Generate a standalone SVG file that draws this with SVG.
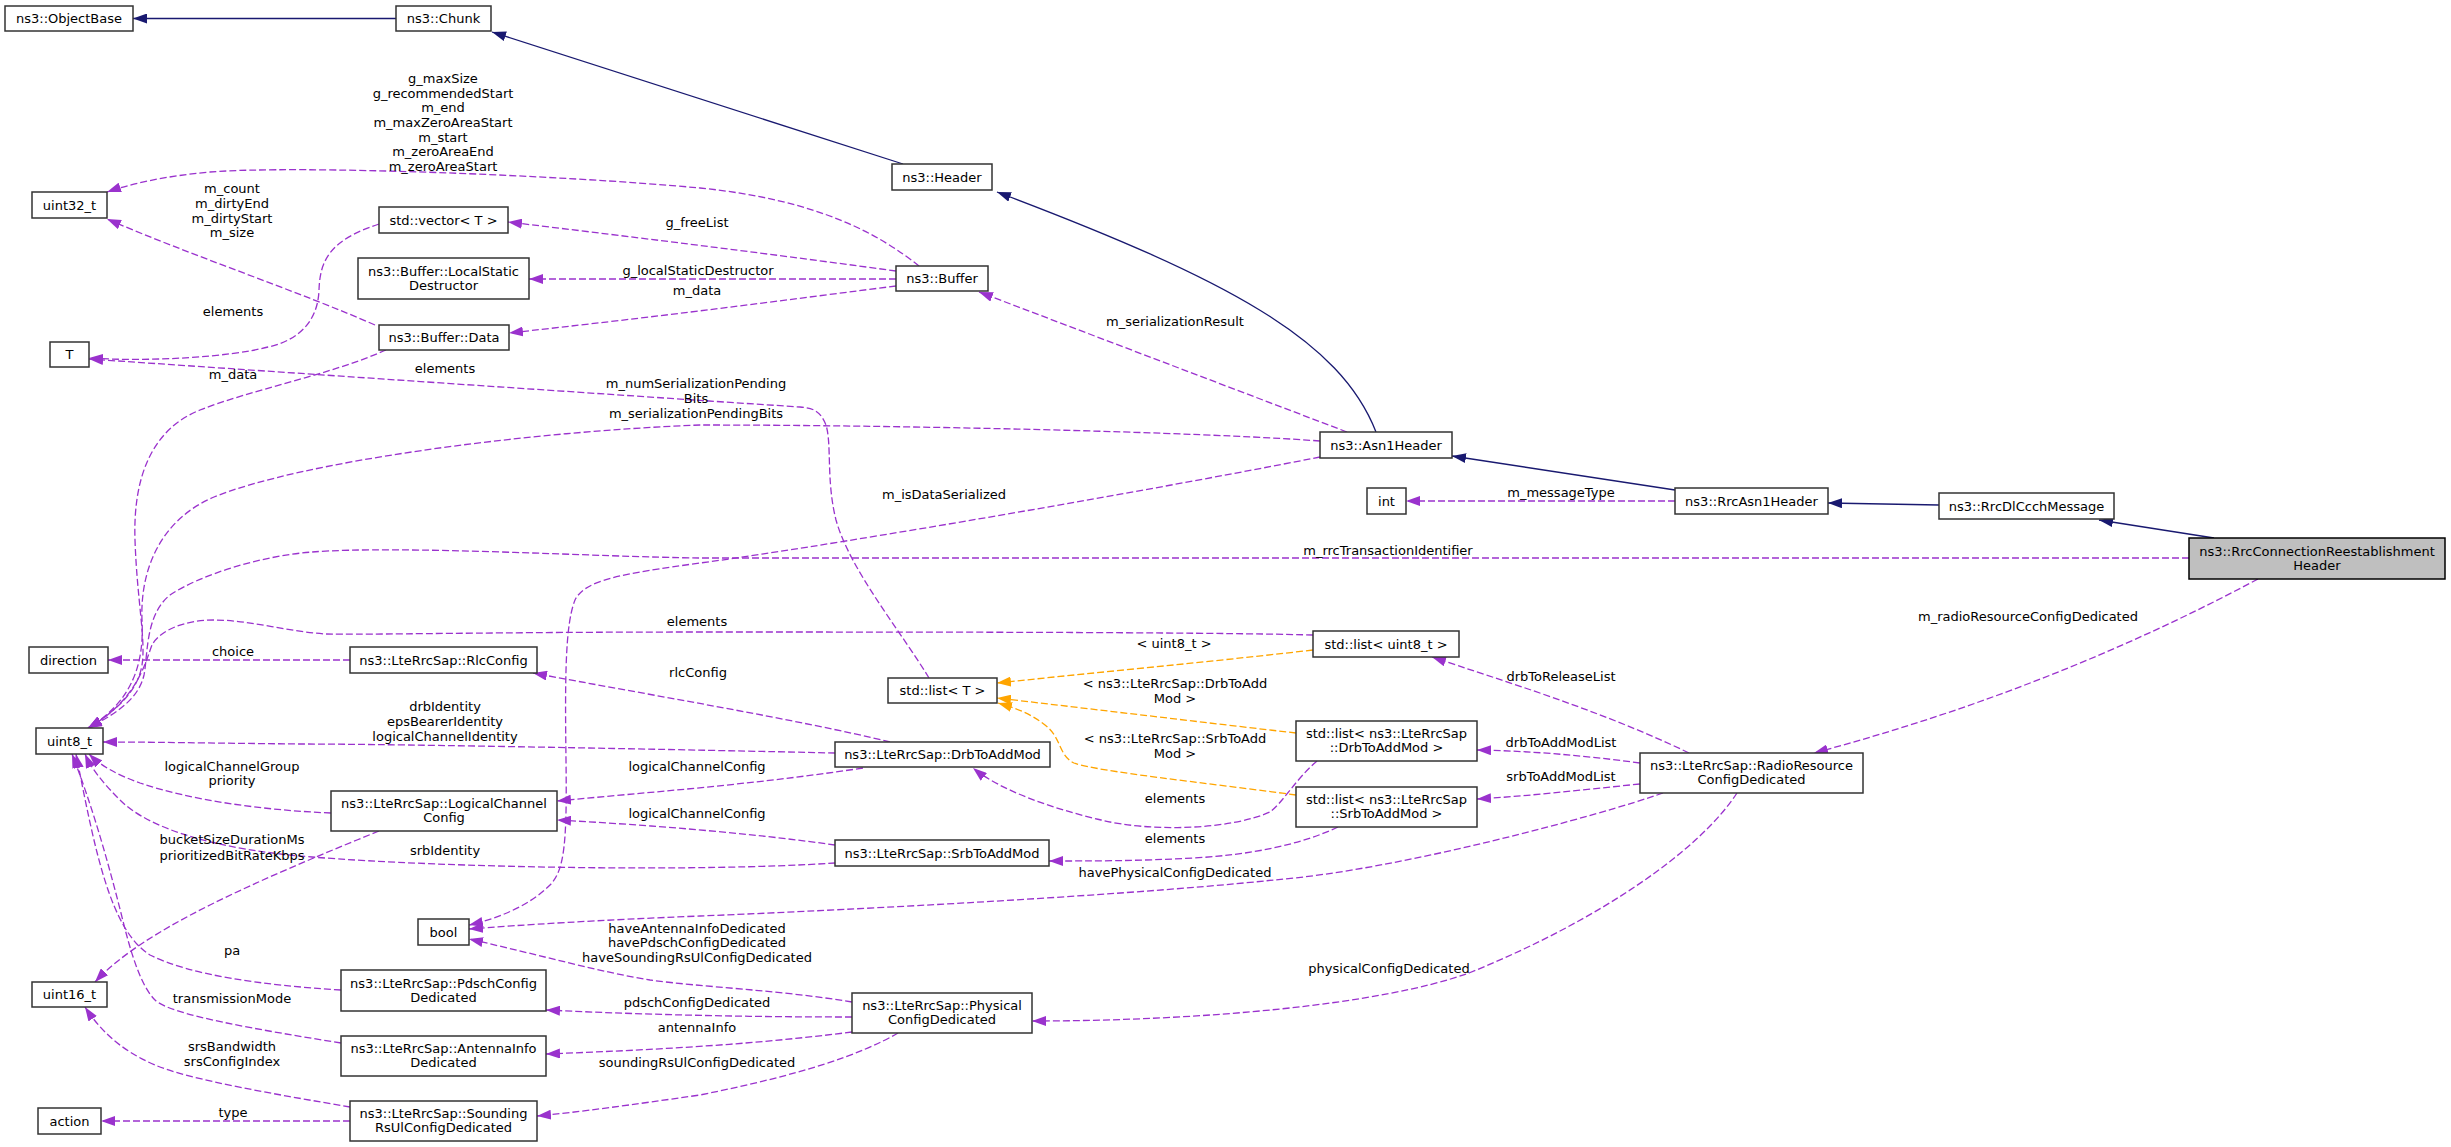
<svg xmlns="http://www.w3.org/2000/svg" width="2451" height="1147" viewBox="0 0 2451 1147">
<style>
text{font-family:"DejaVu Sans","Liberation Sans",sans-serif;font-size:13px;fill:#000;text-anchor:middle}
.n rect{fill:#fff;stroke:#333;stroke-width:1.5}
.m rect{fill:#bfbfbf;stroke:#000;stroke-width:1.5}
.inh{fill:none;stroke:#191970;stroke-width:1.3;marker-end:url(#ai)}
.use{fill:none;stroke:#9a32cd;stroke-width:1.3;stroke-dasharray:7,3;marker-end:url(#au)}
.tpl{fill:none;stroke:#ffa500;stroke-width:1.3;stroke-dasharray:7,3;marker-end:url(#at)}
</style>
<defs>
<marker id="ai" markerUnits="userSpaceOnUse" markerWidth="15" markerHeight="10" refX="14" refY="5" orient="auto"><path d="M0,0L14,5L0,10z" fill="#191970"/></marker>
<marker id="au" markerUnits="userSpaceOnUse" markerWidth="15" markerHeight="10" refX="14" refY="5" orient="auto"><path d="M0,0L14,5L0,10z" fill="#9a32cd"/></marker>
<marker id="at" markerUnits="userSpaceOnUse" markerWidth="15" markerHeight="10" refX="14" refY="5" orient="auto"><path d="M0,0L14,5L0,10z" fill="#ffa500"/></marker>
</defs>
<rect width="2451" height="1147" fill="#fff"/>
<g id="edges">
<path class="inh" d="M396,18.5L133,18.5"/>
<path class="inh" d="M903,164L492,32"/>
<path class="inh" d="M1376,432C1340,340 1230,280 997,192"/>
<path class="inh" d="M1675,490L1452,456"/>
<path class="inh" d="M1939,505L1828,503"/>
<path class="inh" d="M2214,538L2099,520"/>

<path class="use" d="M919,266C880,235 820,200 700,188C560,175 300,165 210,172C165,176 130,184 107,192"/>
<text x="443" y="83">g_maxSize</text><text x="443" y="98">g_recommendedStart</text><text x="443" y="112">m_end</text><text x="443" y="127">m_maxZeroAreaStart</text><text x="443" y="142">m_start</text><text x="443" y="156">m_zeroAreaEnd</text><text x="443" y="171">m_zeroAreaStart</text>
<path class="use" d="M896,271C800,258 700,245 508,222"/>
<text x="697" y="227">g_freeList</text>
<path class="use" d="M896,279L529,279"/>
<text x="698" y="275">g_localStaticDestructor</text>
<path class="use" d="M896,286C800,298 700,312 509,333"/>
<text x="697" y="295">m_data</text>
<path class="use" d="M375,325C300,292 190,255 107,219"/>
<text x="232" y="193">m_count</text><text x="232" y="208">m_dirtyEnd</text><text x="232" y="223">m_dirtyStart</text><text x="232" y="237">m_size</text>
<path class="use" d="M379,224C330,240 320,260 319,290C318,320 300,340 268,347C230,357 150,362 89,358"/>
<text x="233" y="316">elements</text>
<path class="use" d="M929,678C900,630 850,570 836,520C826,480 832,445 826,425C820,410 812,408 800,407L709,401C500,387 250,370 89,359"/>
<text x="445" y="373">elements</text>
<path class="use" d="M386,350C330,375 250,390 200,410C150,430 133,480 135,540C137,600 146,640 142,665C138,690 118,710 88,728"/>
<text x="233" y="379">m_data</text>
<path class="use" d="M1320,441C1200,432 900,425 700,425C520,432 300,462 214,497C160,520 140,570 142,620C144,660 135,700 88,728"/>
<text x="696" y="388">m_numSerializationPending</text><text x="696" y="403">Bits</text><text x="696" y="418">m_serializationPendingBits</text>
<path class="use" d="M1320,457C1100,500 800,550 700,563C620,574 585,580 575,600C565,625 565,680 566,760C567,840 565,870 550,885C530,905 500,918 469,925"/>
<text x="944" y="499">m_isDataSerialized</text>
<path class="use" d="M2189,558L700,558C600,557 400,545 312,552C260,556 200,575 170,595C145,615 148,655 144,675C139,697 120,712 88,728"/>
<text x="1388" y="555">m_rrcTransactionIdentifier</text>
<path class="use" d="M1313,635C1200,632 900,632 700,632C500,632 360,635 326,634C290,632 250,620 214,620C185,620 160,630 152,645C146,660 138,700 88,728"/>
<text x="697" y="626">elements</text>
<path class="tpl" d="M1313,650C1200,663 1100,672 997,683"/>
<text x="1174" y="648">&lt; uint8_t &gt;</text>
<path class="tpl" d="M1296,733C1200,722 1100,710 997,698"/>
<text x="1175" y="688">&lt; ns3::LteRrcSap::DrbToAdd</text><text x="1175" y="703">Mod &gt;</text>
<path class="tpl" d="M1296,795C1200,782 1100,772 1074,763C1058,755 1062,738 1045,725C1030,713 1015,708 998,703"/>
<text x="1175" y="743">&lt; ns3::LteRrcSap::SrbToAdd</text><text x="1175" y="758">Mod &gt;</text>
<path class="use" d="M890,742C800,720 650,695 533,673"/>
<text x="698" y="677">rlcConfig</text>
<path class="use" d="M835,753C700,750 400,744 300,744C200,743 150,742 103,742"/>
<text x="445" y="711">drbIdentity</text><text x="445" y="726">epsBearerIdentity</text><text x="445" y="741">logicalChannelIdentity</text>
<path class="use" d="M863,768C750,785 650,792 557,801"/>
<text x="697" y="771">logicalChannelConfig</text>
<path class="use" d="M835,845C750,833 650,825 557,820"/>
<text x="697" y="818">logicalChannelConfig</text>
<path class="use" d="M835,863C700,872 450,868 312,857C220,850 150,830 120,800C105,785 92,770 85,754"/>
<text x="445" y="855">srbIdentity</text>
<path class="use" d="M331,813C260,810 190,800 140,783C115,774 100,765 89,754"/>
<text x="232" y="771">logicalChannelGroup</text><text x="232" y="785">priority</text>
<path class="use" d="M379,831C320,855 260,880 210,905C160,930 120,955 95,982"/>
<text x="232" y="844">bucketSizeDurationMs</text><text x="232" y="860">prioritizedBitRateKbps</text>
<path class="use" d="M1689,753C1600,710 1500,680 1432,657"/>
<text x="1561" y="681">drbToReleaseList</text>
<path class="use" d="M1640,763C1580,755 1530,751 1477,750"/>
<text x="1561" y="747">drbToAddModList</text>
<path class="use" d="M1640,784C1580,790 1530,796 1477,799"/>
<text x="1561" y="781">srbToAddModList</text>
<path class="use" d="M1663,793C1600,815 1400,870 1274,880C1100,898 800,912 700,916C600,920 520,925 469,929"/>
<text x="1175" y="877">havePhysicalConfigDedicated</text>
<path class="use" d="M1737,793C1700,850 1600,920 1469,973C1380,1005 1200,1021 1032,1021"/>
<text x="1389" y="973">physicalConfigDedicated</text>
<path class="use" d="M2258,579Q2050,690 1814,753"/>
<text x="2028" y="621">m_radioResourceConfigDedicated</text>
<path class="use" d="M1317,761C1295,780 1285,800 1270,812C1230,830 1150,832 1101,820C1050,808 1000,790 973,768"/>
<text x="1175" y="803">elements</text>
<path class="use" d="M1338,827C1300,845 1250,855 1193,858C1140,861 1090,861 1049,861"/>
<text x="1175" y="843">elements</text>
<path class="use" d="M852,1002C780,990 700,987 650,980C600,972 540,955 469,939"/>
<text x="697" y="933">haveAntennaInfoDedicated</text><text x="697" y="947">havePdschConfigDedicated</text><text x="697" y="962">haveSoundingRsUlConfigDedicated</text>
<path class="use" d="M852,1017C750,1017 650,1015 546,1010"/>
<text x="697" y="1007">pdschConfigDedicated</text>
<path class="use" d="M852,1032C750,1045 650,1050 546,1054"/>
<text x="697" y="1032">antennaInfo</text>
<path class="use" d="M898,1033C860,1055 800,1075 700,1095C630,1105 580,1112 537,1116"/>
<text x="697" y="1067">soundingRsUlConfigDedicated</text>
<path class="use" d="M341,990C260,985 190,975 150,955C110,930 95,850 76,754"/>
<text x="232" y="955">pa</text>
<path class="use" d="M341,1043C260,1030 170,1015 155,1000C140,985 130,950 121,913C105,850 90,800 72,754"/>
<text x="232" y="1003">transmissionMode</text>
<path class="use" d="M350,1107C280,1095 190,1080 155,1065C120,1050 100,1030 85,1007"/>
<text x="232" y="1051">srsBandwidth</text><text x="232" y="1066">srsConfigIndex</text>
<path class="use" d="M350,1121L101,1121"/>
<text x="233" y="1117">type</text>
<path class="use" d="M350,660L108,660"/>
<text x="233" y="656">choice</text>
<path class="use" d="M1675,501L1406,501"/>
<text x="1561" y="497">m_messageType</text>
<path class="use" d="M1347,432L979,292"/>
<text x="1175" y="326">m_serializationResult</text>
</g>

<g id="n_objectbase" class="n"><rect x="5" y="6" width="128" height="25"/><text x="69" y="23">ns3::ObjectBase</text></g>
<g id="n_chunk" class="n"><rect x="396" y="6" width="95" height="25"/><text x="443.5" y="23">ns3::Chunk</text></g>
<g id="n_header" class="n"><rect x="892" y="164" width="100" height="26"/><text x="942" y="181.5">ns3::Header</text></g>
<g id="n_buffer" class="n"><rect x="896" y="266" width="92" height="25"/><text x="942" y="283">ns3::Buffer</text></g>
<g id="n_uint32" class="n"><rect x="32" y="192" width="75" height="26"/><text x="69.5" y="209.5">uint32_t</text></g>
<g id="n_vector" class="n"><rect x="379" y="207" width="129" height="26"/><text x="443.5" y="224.5">std::vector&lt; T &gt;</text></g>
<g id="n_localstatic" class="n"><rect x="358" y="258" width="171" height="41"/><text x="443.5" y="275.5">ns3::Buffer::LocalStatic</text><text x="443.5" y="289.5">Destructor</text></g>
<g id="n_bufdata" class="n"><rect x="379" y="325" width="130" height="25"/><text x="444" y="342">ns3::Buffer::Data</text></g>
<g id="n_T" class="n"><rect x="50" y="342" width="39" height="25"/><text x="69.5" y="359">T</text></g>
<g id="n_asn1" class="n"><rect x="1320" y="432" width="132" height="26"/><text x="1386" y="449.5">ns3::Asn1Header</text></g>
<g id="n_int" class="n"><rect x="1367" y="488" width="39" height="26"/><text x="1386.5" y="505.5">int</text></g>
<g id="n_rrcasn1" class="n"><rect x="1675" y="488" width="153" height="26"/><text x="1751.5" y="505.5">ns3::RrcAsn1Header</text></g>
<g id="n_rrcdlccch" class="n"><rect x="1939" y="493" width="175" height="26"/><text x="2026.5" y="510.5">ns3::RrcDlCcchMessage</text></g>
<g id="n_reest" class="m"><rect x="2189" y="538" width="256" height="41"/><text x="2317" y="555.5">ns3::RrcConnectionReestablishment</text><text x="2317" y="569.5">Header</text></g>
<g id="n_listuint8" class="n"><rect x="1313" y="631" width="146" height="26"/><text x="1386" y="648.5">std::list&lt; uint8_t &gt;</text></g>
<g id="n_direction" class="n"><rect x="29" y="647" width="79" height="26"/><text x="68.5" y="664.5">direction</text></g>
<g id="n_rlcconfig" class="n"><rect x="350" y="647" width="187" height="26"/><text x="443.5" y="664.5">ns3::LteRrcSap::RlcConfig</text></g>
<g id="n_listT" class="n"><rect x="888" y="678" width="109" height="25"/><text x="942.5" y="695">std::list&lt; T &gt;</text></g>
<g id="n_listdrb" class="n"><rect x="1296" y="721" width="181" height="40"/><text x="1386.5" y="738">std::list&lt; ns3::LteRrcSap</text><text x="1386.5" y="752">::DrbToAddMod &gt;</text></g>
<g id="n_uint8" class="n"><rect x="36" y="728" width="67" height="26"/><text x="69.5" y="745.5">uint8_t</text></g>
<g id="n_drbtoaddmod" class="n"><rect x="835" y="742" width="215" height="25"/><text x="942.5" y="759">ns3::LteRrcSap::DrbToAddMod</text></g>
<g id="n_rrcd" class="n"><rect x="1640" y="753" width="223" height="40"/><text x="1751.5" y="770">ns3::LteRrcSap::RadioResource</text><text x="1751.5" y="784">ConfigDedicated</text></g>
<g id="n_listsrb" class="n"><rect x="1296" y="787" width="181" height="40"/><text x="1386.5" y="804">std::list&lt; ns3::LteRrcSap</text><text x="1386.5" y="818">::SrbToAddMod &gt;</text></g>
<g id="n_lcc" class="n"><rect x="331" y="791" width="226" height="40"/><text x="444" y="808">ns3::LteRrcSap::LogicalChannel</text><text x="444" y="822">Config</text></g>
<g id="n_srbtoaddmod" class="n"><rect x="835" y="840" width="214" height="26"/><text x="942" y="857.5">ns3::LteRrcSap::SrbToAddMod</text></g>
<g id="n_bool" class="n"><rect x="418" y="919" width="51" height="26"/><text x="443.5" y="936.5">bool</text></g>
<g id="n_pdsch" class="n"><rect x="341" y="970" width="205" height="41"/><text x="443.5" y="987.5">ns3::LteRrcSap::PdschConfig</text><text x="443.5" y="1001.5">Dedicated</text></g>
<g id="n_uint16" class="n"><rect x="32" y="982" width="75" height="25"/><text x="69.5" y="999">uint16_t</text></g>
<g id="n_pcd" class="n"><rect x="852" y="993" width="180" height="40"/><text x="942" y="1010">ns3::LteRrcSap::Physical</text><text x="942" y="1024">ConfigDedicated</text></g>
<g id="n_antenna" class="n"><rect x="341" y="1036" width="205" height="40"/><text x="443.5" y="1053">ns3::LteRrcSap::AntennaInfo</text><text x="443.5" y="1067">Dedicated</text></g>
<g id="n_action" class="n"><rect x="38" y="1108" width="63" height="26"/><text x="69.5" y="1125.5">action</text></g>
<g id="n_sounding" class="n"><rect x="350" y="1101" width="187" height="40"/><text x="443.5" y="1118">ns3::LteRrcSap::Sounding</text><text x="443.5" y="1132">RsUlConfigDedicated</text></g>
</svg>
